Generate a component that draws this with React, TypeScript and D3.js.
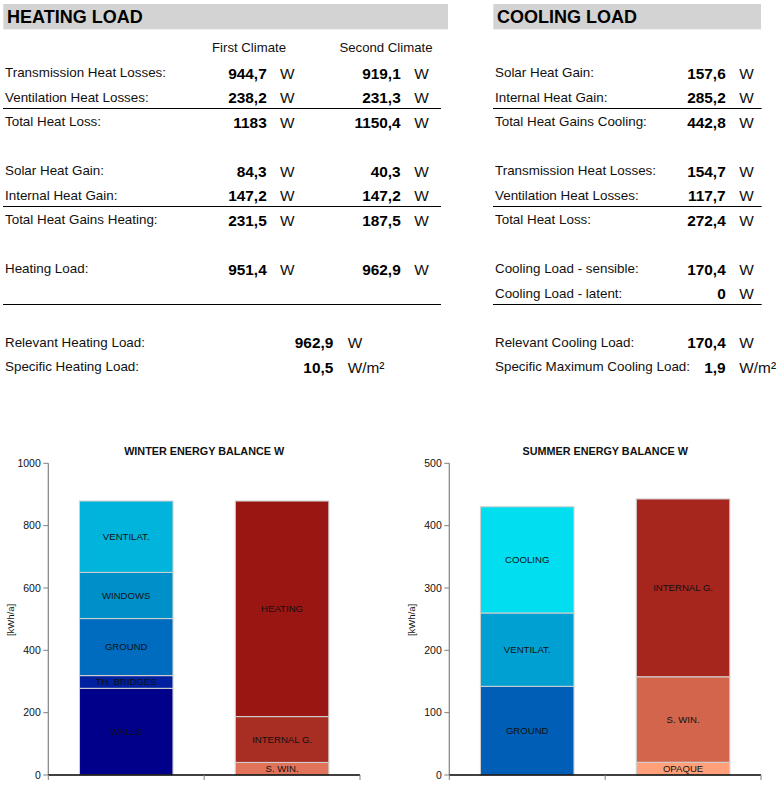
import React from 'react';
import * as d3 from 'd3';

// ---- table data ----
const heatingLabels = [
  'Transmission Heat Losses:',
  'Ventilation Heat Losses:',
  'Total Heat Loss:',
  'Solar Heat Gain:',
  'Internal Heat Gain:',
  'Total Heat Gains Heating:',
  'Heating Load:',
];
const firstClimate = ['944,7', '238,2', '1183', '84,3', '147,2', '231,5', '951,4'];
const secondClimate = ['919,1', '231,3', '1150,4', '40,3', '147,2', '187,5', '962,9'];
const heatingSummaryLabels = ['Relevant Heating Load:', 'Specific Heating Load:'];
const heatingSummaryValues = ['962,9', '10,5'];
const heatingSummaryUnits = ['W', 'W/m²'];

const coolingLabels = [
  'Solar Heat Gain:',
  'Internal Heat Gain:',
  'Total Heat Gains Cooling:',
  'Transmission Heat Losses:',
  'Ventilation Heat Losses:',
  'Total Heat Loss:',
  'Cooling Load - sensible:',
  'Cooling Load - latent:',
];
const coolingValues = ['157,6', '285,2', '442,8', '154,7', '117,7', '272,4', '170,4', '0'];
const coolingSummaryLabels = ['Relevant Cooling Load:', 'Specific Maximum Cooling Load:'];
const coolingSummaryValues = ['170,4', '1,9'];
const coolingSummaryUnits = ['W', 'W/m²'];

// ---- chart data ----
const winterLossLabels = ['WALLS', 'TH. BRIDGES', 'GROUND', 'WINDOWS', 'VENTILAT.'];
const winterLossValues = [278, 41, 183, 148, 229];
const winterGainLabels = ['S. WIN.', 'INTERNAL G.', 'HEATING'];
const winterGainValues = [40.3, 147.2, 691.5];
const winterTicks = [0, 200, 400, 600, 800, 1000];

const summerLossLabels = ['GROUND', 'VENTILAT.', 'COOLING'];
const summerLossValues = [142.2, 117.7, 170.4];
const summerGainLabels = ['OPAQUE', 'S. WIN.', 'INTERNAL G.'];
const summerGainValues = [20.4, 137.2, 285.2];
const summerTicks = [0, 100, 200, 300, 400, 500];

const winterLossColors = ['#00008a', '#0020a0', '#006cbf', '#0090c9', '#00b4dc'];
const winterGainColors = ['#e0735a', '#a82d22', '#991612'];
const summerLossColors = ['#005eb6', '#00a0d2', '#00def0'];
const summerGainColors = ['#ffa07a', '#d2654c', '#a6261e'];

const FONT = '"Liberation Sans", Arial, sans-serif';

// row slots for the tables
const slot = (i: number) => 77 + i * 24.5;
const heatingSlots = [0, 1, 2, 4, 5, 6, 8];
const coolingSlots = [0, 1, 2, 4, 5, 6, 8, 9];
const summarySlots = [11, 12];

interface Bar {
  labels: string[];
  values: number[];
  colors: string[];
}

interface ChartProps {
  title: string;
  x0: number;
  x1: number;
  max: number;
  ticks: number[];
  bars: Bar[];
  labelX: number;
}

const StackChart: React.FC<ChartProps> = ({ title, x0, x1, max, ticks, bars, labelX }) => {
  const top = 463.3;
  const bottom = 775;
  const y = d3.scaleLinear().domain([0, max]).range([bottom, top]);
  const x = d3
    .scaleBand<number>()
    .domain(bars.map((_, i) => i))
    .range([x0, x1])
    .paddingInner(0.4)
    .paddingOuter(0.2);
  const step = x.step();
  const bounds = d3.range(bars.length + 1).map(i => x0 + i * step);

  return (
    <g fontFamily={FONT}>
      <text x={(x0 + x1) / 2} y={455} textAnchor="middle" fontSize={10.8} fontWeight="bold" fill="#111">
        {title}
      </text>
      <text
        transform={`translate(${labelX},620) rotate(-90)`}
        textAnchor="middle"
        fontSize={9.5}
        fill="#111"
      >
        [kWh/a]
      </text>
      {/* y axis */}
      <line x1={x0} x2={x0} y1={top} y2={bottom} stroke="#808080" strokeWidth={1.2} />
      {ticks.map(t => (
        <g key={t}>
          <line x1={x0 - 5} x2={x0} y1={y(t)} y2={y(t)} stroke="#808080" strokeWidth={1} />
          <text x={x0 - 7.5} y={y(t) + 3.8} textAnchor="end" fontSize={10.5} fill="#111">
            {t}
          </text>
        </g>
      ))}
      {/* bars */}
      {bars.map((bar, bi) => {
        const ends = Array.from(d3.cumsum(bar.values));
        return (
          <g key={bi}>
            {bar.values.map((v, si) => {
              const start = si === 0 ? 0 : ends[si - 1];
              const end = ends[si];
              const yt = y(end);
              const yb = y(start);
              return (
                <g key={si}>
                  <rect
                    x={x(bi)}
                    y={yt}
                    width={x.bandwidth()}
                    height={yb - yt}
                    fill={bar.colors[si]}
                    stroke="#cfcfcf"
                    strokeWidth={1.1}
                  />
                  <text
                    x={(x(bi) as number) + x.bandwidth() / 2}
                    y={(yt + yb) / 2 + 3.4}
                    textAnchor="middle"
                    fontSize={9.6}
                    fill="#111"
                  >
                    {bar.labels[si]}
                  </text>
                </g>
              );
            })}
          </g>
        );
      })}
      {/* x axis */}
      <line x1={x0} x2={x1} y1={bottom} y2={bottom} stroke="#000" strokeWidth={1.3} />
      {bounds.map((b, i) => (
        <line key={i} x1={b} x2={b} y1={bottom} y2={bottom + 5} stroke="#808080" strokeWidth={1} />
      ))}
    </g>
  );
};

const App: React.FC = () => {
  const labelSize = 13.4;
  const valueSize = 15.4;
  return (
    <svg
      width={780}
      height={800}
      style={{ position: 'absolute', left: 0, top: 0, background: '#fff' }}
      fontFamily={FONT}
    >
      {/* heating header */}
      <rect x={3.3} y={4} width={444.7} height={25.3} fill="#d3d3d3" />
      <text x={7} y={23} fontSize={18} fontWeight="bold" fill="#000">HEATING LOAD</text>
      <rect x={493.3} y={4} width={267.7} height={25.3} fill="#d3d3d3" />
      <text x={497} y={23} fontSize={18} fontWeight="bold" fill="#000">COOLING LOAD</text>

      <text x={249} y={52} textAnchor="middle" fontSize={13.2} fill="#111">First Climate</text>
      <text x={386} y={52} textAnchor="middle" fontSize={13.2} fill="#111">Second Climate</text>

      {heatingLabels.map((l, i) => {
        const yy = slot(heatingSlots[i]);
        return (
          <g key={l}>
            <text x={5} y={yy} fontSize={labelSize} fill="#111">{l}</text>
            <text x={266.7} y={yy + 1.5} textAnchor="end" fontSize={valueSize} fontWeight="bold" fill="#000">
              {firstClimate[i]}
            </text>
            <text x={280} y={yy + 1.5} fontSize={valueSize} fill="#111">W</text>
            <text x={400.7} y={yy + 1.5} textAnchor="end" fontSize={valueSize} fontWeight="bold" fill="#000">
              {secondClimate[i]}
            </text>
            <text x={414.3} y={yy + 1.5} fontSize={valueSize} fill="#111">W</text>
          </g>
        );
      })}
      {heatingSummaryLabels.map((l, i) => {
        const yy = slot(summarySlots[i]);
        return (
          <g key={l}>
            <text x={5} y={yy} fontSize={labelSize} fill="#111">{l}</text>
            <text x={333.3} y={yy + 1.5} textAnchor="end" fontSize={valueSize} fontWeight="bold" fill="#000">
              {heatingSummaryValues[i]}
            </text>
            <text x={347.7} y={yy + 1.5} fontSize={valueSize} fill="#111">{heatingSummaryUnits[i]}</text>
          </g>
        );
      })}
      {[1, 5, 9].map(s => (
        <line key={s} x1={3} x2={441} y1={slot(s) + 7} y2={slot(s) + 7} stroke="#000" strokeWidth={1} />
      ))}

      {coolingLabels.map((l, i) => {
        const yy = slot(coolingSlots[i]);
        return (
          <g key={l}>
            <text x={495} y={yy} fontSize={labelSize} fill="#111">{l}</text>
            <text x={725.7} y={yy + 1.5} textAnchor="end" fontSize={valueSize} fontWeight="bold" fill="#000">
              {coolingValues[i]}
            </text>
            <text x={739.3} y={yy + 1.5} fontSize={valueSize} fill="#111">W</text>
          </g>
        );
      })}
      {coolingSummaryLabels.map((l, i) => {
        const yy = slot(summarySlots[i]);
        return (
          <g key={l}>
            <text x={495} y={yy} fontSize={labelSize} fill="#111">{l}</text>
            <text x={725.7} y={yy + 1.5} textAnchor="end" fontSize={valueSize} fontWeight="bold" fill="#000">
              {coolingSummaryValues[i]}
            </text>
            <text x={739.3} y={yy + 1.5} fontSize={valueSize} fill="#111">{coolingSummaryUnits[i]}</text>
          </g>
        );
      })}
      {[1, 5, 9].map(s => (
        <line key={s} x1={493} x2={761.7} y1={slot(s) + 7} y2={slot(s) + 7} stroke="#000" strokeWidth={1} />
      ))}

      <StackChart
        title="WINTER ENERGY BALANCE W"
        x0={48.3}
        x1={360}
        max={1000}
        ticks={winterTicks}
        labelX={14}
        bars={[
          { labels: winterLossLabels, values: winterLossValues, colors: winterLossColors },
          { labels: winterGainLabels, values: winterGainValues, colors: winterGainColors },
        ]}
      />
      <StackChart
        title="SUMMER ENERGY BALANCE W"
        x0={449.3}
        x1={761}
        max={500}
        ticks={summerTicks}
        labelX={415}
        bars={[
          { labels: summerLossLabels, values: summerLossValues, colors: summerLossColors },
          { labels: summerGainLabels, values: summerGainValues, colors: summerGainColors },
        ]}
      />
    </svg>
  );
};

export default App;
